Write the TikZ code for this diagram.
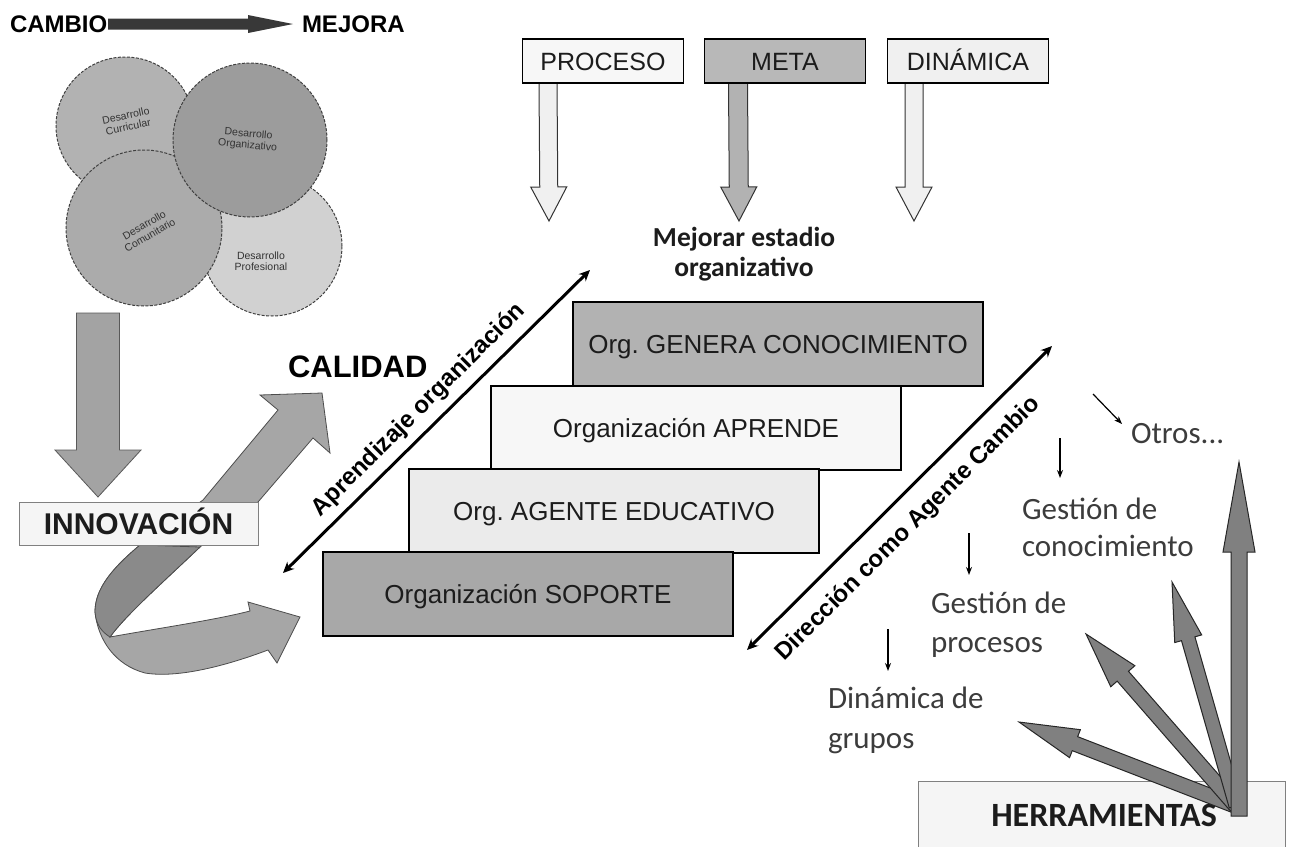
\documentclass[tikz,border=0pt]{standalone}
\usepackage{fontspec}
\setmainfont{Liberation Sans}
\newfontfamily\calfont{Carlito}
\usetikzlibrary{arrows.meta,calc}

% block arrow: start, tip, shaft half-width, head half-width, head length, style
\newcommand\fatarrow[6]{%
  \path (#1) coordinate (fa-start) (#2) coordinate (fa-tip);
  \path ($(fa-tip)!#5!(fa-start)$) coordinate (fa-base);
  \path[#6] ($(fa-start)!#3!90:(fa-tip)$) -- ($(fa-base)!#3!90:(fa-tip)$)
    -- ($(fa-base)!#4!90:(fa-tip)$) -- (fa-tip)
    -- ($(fa-base)!#4!-90:(fa-tip)$) -- ($(fa-base)!#3!-90:(fa-tip)$)
    -- ($(fa-start)!#3!-90:(fa-tip)$) -- cycle;}

\definecolor{edge}{HTML}{333333}
\definecolor{txt}{HTML}{1C1C1C}
\definecolor{soft}{HTML}{3C3C3C}

\begin{document}
\begin{tikzpicture}[x=1pt,y=-1pt,
  every node/.style={inner sep=0pt, outer sep=0pt},
  heavy/.style={font=\bfseries\fontsize{#1}{#1}\selectfont, text=black},
  devcirc/.style={draw=black!75, line width=1pt, dash pattern=on 3pt off 1.5pt},
  devtext/.style={font=\fontsize{10.5}{11.5}\selectfont, text=black!80, align=center},
  topbox/.style={draw=black, line width=1.5pt, minimum width=161pt, minimum height=44pt,
    font=\fontsize{25}{25}\selectfont, text=txt, text height=18pt, text depth=0pt},
  stairbox/.style={draw=black, line width=1.2pt, minimum width=410pt, minimum height=84pt,
    anchor=north west, font=\fontsize{26}{26}\selectfont, text=txt,
    text height=18.5pt, text depth=0pt},
  lightbox/.style={draw=black!50, line width=1pt, fill=black!4},
  tool/.style={font=\calfont\fontsize{31}{31}\selectfont, text=soft, anchor=base west},
  thinarrow/.style={line width=1.2pt, -{Stealth[length=8pt,width=6pt]}},
  axisarrow/.style={line width=3pt, {Stealth[length=11pt,width=10pt]}-{Stealth[length=11pt,width=10pt]}},
  blockedge/.style={draw=edge, line width=1pt},
  fan/.style={fill=black!50, draw=black!85, line width=1pt}]
\useasboundingbox (0,0) rectangle (1290,846);

% ---------- CAMBIO -> MEJORA ----------
\node[heavy=24, anchor=west] (cambio) at (10,24) {CAMBIO};
\node[heavy=24, anchor=west] (mejora) at (302,24) {MEJORA};
\coordinate (cmA) at (108,24);
\coordinate (cmB) at (293,24);
\fatarrow{cmA}{cmB}{5.5pt}{9pt}{45pt}{fill=black!78}

% ---------- four overlapping circles ----------
\node[devcirc, circle, fill=black!18, minimum size=140pt] (profC) at (272,246) {};
\node[devcirc, circle, fill=black!30, minimum size=138pt] (currC) at (125,126) {};
\node[devcirc, circle, fill=black!33, minimum size=156pt] (comuC) at (144,228) {};
\node[devcirc, circle, fill=black!39, minimum size=154pt] (orgC) at (250,140) {};
\node[devtext, rotate=12] (currT) at (127,121) {Desarrollo\\Curricular};
\node[devtext, rotate=-5] (orgT) at (248,140) {Desarrollo\\Organizativo};
\node[devtext, rotate=30] (comuT) at (147,230) {Desarrollo\\Comunitario};
\node[devtext] (profT) at (261,261) {Desarrollo\\Profesional};

% ---------- down arrow to INNOVACIÓN ----------
\coordinate (dnA) at (98,313);
\coordinate (dnB) at (98,497);
\fatarrow{dnA}{dnB}{21.5pt}{43pt}{47pt}{fill=black!36, draw=black!65, line width=0.8pt}

% ---------- twisted ribbon arrow ----------
\path[fill=black!35, draw=black!70, line width=0.8pt]
  (322,393) -- (330,453) -- (313,438) -- (258,502) -- (200,547)
  .. controls (160,585) and (126,615) .. (110,637)
  .. controls (160,628) and (215,620) .. (250,611)
  -- (248,602) -- (300,617) -- (277,663) -- (268,650)
  .. controls (220,668) and (175,678) .. (145,673)
  .. controls (115,665) and (98,640) .. (95,612)
  .. controls (95,590) and (110,570) .. (140,545)
  -- (203,500) -- (278,410) -- (260,395) -- cycle;
\path[fill=black!46, draw=black!70, line width=0.8pt]
  (140,545) .. controls (110,570) and (95,590) .. (95,612)
  .. controls (96,625) and (102,632) .. (110,637)
  .. controls (126,615) and (160,585) .. (200,547) -- cycle;

\node[lightbox, minimum width=239pt, minimum height=43pt, anchor=north west,
  font=\bfseries\fontsize{30}{30}\selectfont, text=txt, text height=21.5pt, text depth=0pt]
  (innov) at (19,502) {INNOVACIÓN};

\node[heavy=31, anchor=west] (calidad) at (288,367) {CALIDAD};

% ---------- top boxes and their arrows ----------
\coordinate (prA) at (548,83);  \coordinate (prB) at (549,221);
\coordinate (meA) at (738,83);  \coordinate (meB) at (739,221);
\coordinate (diA) at (914,83);  \coordinate (diB) at (914,221);
\fatarrow{prA}{prB}{9pt}{18pt}{34pt}{fill=black!6, blockedge}
\fatarrow{meA}{meB}{9.5pt}{18pt}{34pt}{fill=black!30, blockedge}
\fatarrow{diA}{diB}{9pt}{18pt}{34pt}{fill=black!6, blockedge}
\node[topbox, fill=black!3] (proceso) at (603,61) {PROCESO};
\node[topbox, fill=black!28] (meta) at (785,61) {META};
\node[topbox, fill=black!6] (dinamica) at (968,61) {DINÁMICA};

\node[font=\calfont\bfseries\fontsize{27.5}{30}\selectfont, text=txt, align=center]
  (mejorar) at (744,254) {Mejorar estadio\\organizativo};

% ---------- staircase ----------
\node[stairbox, fill=black!30] (genera) at (573,302) {Org.\ GENERA CONOCIMIENTO};
\node[stairbox, fill=black!3] (aprende) at (491,386) {Organización APRENDE};
\node[stairbox, fill=black!8] (agente) at (409,469) {Org.\ AGENTE EDUCATIVO};
\node[stairbox, fill=black!34] (soporte) at (323,552) {Organización SOPORTE};

% ---------- diagonal axes ----------
\coordinate (apA) at (283,573);
\coordinate (apB) at (590,270);
\draw[axisarrow] (apA) -- (apB);
\node[heavy=24, rotate=45] (aprend) at (419,410) {Aprendizaje organización};

\coordinate (drA) at (747,650);
\coordinate (drB) at (1052,346);
\draw[axisarrow] (drA) -- (drB);
\node[heavy=24, rotate=45] (direcc) at (908,529) {Dirección como Agente Cambio};

% ---------- tools ----------
\node[tool] (otros) at (1131,443) {Otros...};
\node[tool] (gc1) at (1022,519) {Gestión de};
\node[tool] (gc2) at (1022,556) {conocimiento};
\node[tool] (gp1) at (931,613) {Gestión de};
\node[tool] (gp2) at (931,652) {procesos};
\node[tool] (dg1) at (828,708) {Dinámica de};
\node[tool] (dg2) at (828,748) {grupos};

\coordinate (oA) at (1093,394);  \coordinate (oB) at (1122,424);
\coordinate (kA) at (1060,438);  \coordinate (kB) at (1060,478);
\coordinate (pA) at (969,533);   \coordinate (pB) at (969,575);
\coordinate (gA) at (888,629);   \coordinate (gB) at (888,671);
\draw[thinarrow] (oA) -- (oB);
\draw[thinarrow] (kA) -- (kB);
\draw[thinarrow] (pA) -- (pB);
\draw[thinarrow] (gA) -- (gB);

\node[lightbox, minimum width=367pt, minimum height=66pt, anchor=north west]
  (herrbox) at (918,781) {};
\node[font=\calfont\bfseries\fontsize{34}{34}\selectfont, text=txt, anchor=base]
  (herr) at (1104,826) {HERRAMIENTAS};

\coordinate (fan0) at (1236,806);
\coordinate (fan1) at (1019,722);
\coordinate (fan2) at (1086,634);
\coordinate (fan3) at (1172,582);
\coordinate (fan4) at (1239,462);
\coordinate (fan4s) at (1239,816);
\fatarrow{fan0}{fan1}{7.5pt}{15pt}{60pt}{fan}
\fatarrow{fan0}{fan2}{7.5pt}{16pt}{56pt}{fan}
\fatarrow{fan0}{fan3}{7pt}{14pt}{59pt}{fan}
\fatarrow{fan4s}{fan4}{8pt}{16pt}{90pt}{fan}
\end{tikzpicture}
\end{document}
